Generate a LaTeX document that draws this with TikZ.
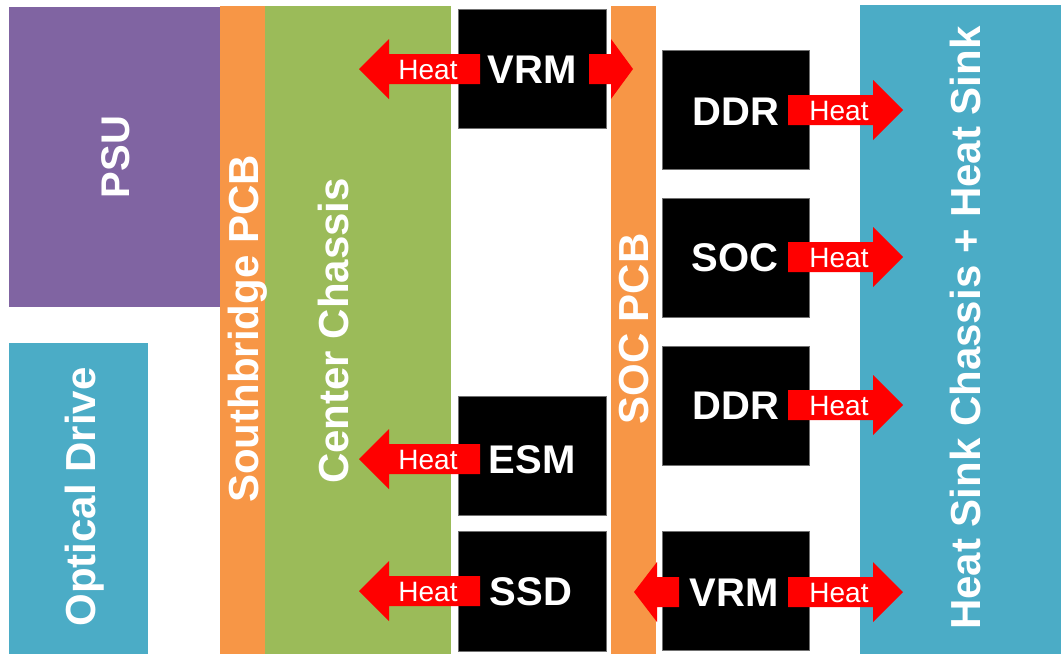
\documentclass[tikz,border=0pt]{standalone}
\usepackage{fontspec}
\setmainfont{Liberation Sans}
\definecolor{psucol}{HTML}{8064A2}
\definecolor{pcbcol}{HTML}{F79646}
\definecolor{chassiscol}{HTML}{9BBB59}
\definecolor{sinkcol}{HTML}{4BACC6}
\definecolor{heatred}{HTML}{FF0000}
\definecolor{chipedge}{HTML}{707070}
\newcommand\HeatArrow[4]{% tip x, head base x, tail x, centre y
  \fill[heatred] (#3,#4-15) -- (#2,#4-15) -- (#2,#4-30) -- (#1,#4) -- (#2,#4+30) -- (#2,#4+15) -- (#3,#4+15) -- cycle;}
\begin{document}
\begin{tikzpicture}[x=1pt,y=-1pt,
  chip/.style={fill=black, draw=chipedge, line width=0.8pt},
  chiplabel/.style={text=white, font=\fontsize{40}{44}\selectfont\bfseries, inner sep=0pt, text height=28.6pt, text depth=0pt},
  heatlabel/.style={text=white, font=\fontsize{28}{30}\selectfont, inner sep=0pt, text height=20pt, text depth=0pt},
  panellabel/.style={text=white, font=\fontsize{42}{46}\selectfont\bfseries, inner sep=0pt, rotate=90, text height=30pt, text depth=0pt}]
\useasboundingbox (0,0) rectangle (1061,654);
% panels
\fill[psucol] (9,7) rectangle (220,307);
\fill[sinkcol] (9,343) rectangle (148,654);
\fill[pcbcol] (220,6) rectangle (265,654);
\fill[chassiscol] (265,6) rectangle (451,654);
\fill[pcbcol] (611,6) rectangle (656,654);
\fill[sinkcol] (860,5) rectangle (1061,654);
% chips
\draw[chip] (458,9) rectangle (606,128);
\draw[chip] (458,396) rectangle (606,515);
\draw[chip] (458,531) rectangle (606,651);
\draw[chip] (662,50) rectangle (809,169);
\draw[chip] (662,198) rectangle (809,317);
\draw[chip] (662,346) rectangle (809,465);
\draw[chip] (662,531) rectangle (809,650);
% heat arrows
\HeatArrow{359}{389}{480}{69}
\HeatArrow{633}{611}{589}{69}
\HeatArrow{359}{389}{480}{459}
\HeatArrow{359}{389}{480}{591}
\HeatArrow{903}{873}{788}{110}
\HeatArrow{903}{873}{788}{257}
\HeatArrow{903}{873}{788}{405}
\HeatArrow{903}{873}{788}{592}
\HeatArrow{634}{657}{679}{592}
% panel labels
\node[panellabel, font=\fontsize{40}{44}\selectfont\bfseries, text height=28.6pt] (psu) at (115,157) {PSU};
\node[panellabel] (odd) at (80,497) {Optical Drive};
\node[panellabel] (sb) at (243,329) {Southbridge PCB};
\node[panellabel] (cc) at (333,331) {Center Chassis};
\node[panellabel] (socpcb) at (633,329) {SOC PCB};
\node[panellabel] (hs) at (965,328) {Heat Sink Chassis + Heat Sink};
% chip labels
\node[chiplabel] (vrm1) at (532,69.5) {VRM};
\node[chiplabel] (esm) at (532,459) {ESM};
\node[chiplabel] (ssd) at (531,591) {SSD};
\node[chiplabel] (ddr1) at (736,111) {DDR};
\node[chiplabel] (soc) at (735,257.5) {SOC};
\node[chiplabel] (ddr2) at (736,405) {DDR};
\node[chiplabel] (vrm2) at (734,592) {VRM};
% heat labels
\node[heatlabel] (h1) at (428,69) {Heat};
\node[heatlabel] (h2) at (428,459) {Heat};
\node[heatlabel] (h3) at (428,591) {Heat};
\node[heatlabel] (h4) at (839,110) {Heat};
\node[heatlabel] (h5) at (839,257.5) {Heat};
\node[heatlabel] (h6) at (839,405) {Heat};
\node[heatlabel] (h7) at (839,592) {Heat};
\end{tikzpicture}
\end{document}
